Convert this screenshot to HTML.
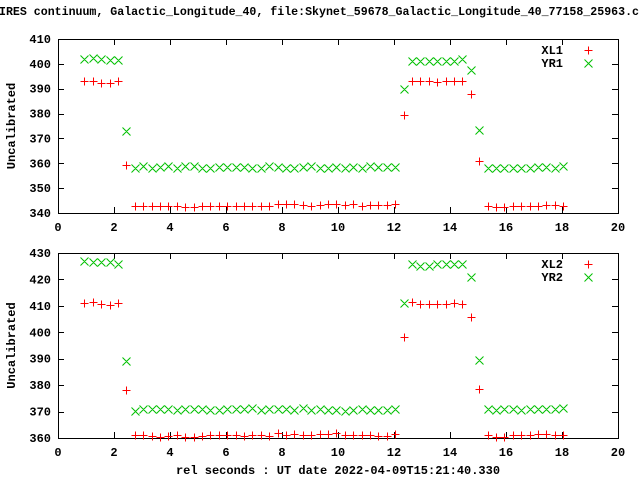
<!DOCTYPE html>
<html><head><meta charset="utf-8"><style>
html,body{margin:0;padding:0;background:#fff;}
svg{display:block;font-family:"Liberation Mono","DejaVu Sans Mono",monospace;font-weight:bold;font-size:12px;}
</style></head><body>
<svg id="chart" width="640" height="480" viewBox="0 0 640 480" xmlns="http://www.w3.org/2000/svg">
<text x="-1" y="15" fill="#000" textLength="640" lengthAdjust="spacingAndGlyphs">IRES continuum, Galactic_Longitude_40, file:Skynet_59678_Galactic_Longitude_40_77158_25963.c</text>
<text x="338" y="474" text-anchor="middle" fill="#000">rel seconds : UT date 2022-04-09T15:21:40.330</text>
<g id="p1"></g>
<g id="p2"></g>
</svg>
<script>
const times = [];
for (let i = 0; i < 58; i++) times.push(+(0.94 + 0.3 * i).toFixed(2));
const xTicks = [0, 2, 4, 6, 8, 10, 12, 14, 16, 18, 20];
const yTicks1 = [340, 350, 360, 370, 380, 390, 400, 410];
const yTicks2 = [360, 370, 380, 390, 400, 410, 420, 430];
const XL1 = [393,393,392.5,392.5,393.2,359.5,
343,342.8,342.8,342.8,342.8,342.8,342.5,342.5,343,342.8,342.8,343,343,342.8,342.8,342.8,343,343.5,343.5,343.5,343.3,342.8,343.3,343.5,343.5,343.3,343.5,343,343.3,343.3,343.3,343.5,
379.3,393,393.2,393.2,392.8,393,393,393,387.9,360.9,
342.8,342.5,342.5,343,342.8,343,342.8,343.3,343.3,342.8];
const YR1 = [402,402.5,402,401.5,401.5,373,
358.3,358.8,358.3,358.5,358.8,358.3,358.8,358.8,358.3,358.3,358.5,358.5,358.5,358.5,358.3,358,358.8,358.5,358.3,358.3,358.5,358.8,358.3,358.3,358.5,358.3,358.5,358.3,358.8,358.5,358.5,358.5,
389.8,401.3,401.3,401.3,401.3,401.3,401.3,402,397.5,373.4,
358.3,358,358.3,358.3,358,358.3,358.5,358.5,358.3,358.8];
const XL2 = [411,411.3,410.7,410.3,411,378,
361,361.3,360.8,360.5,360.8,361.3,360.5,360.5,360.8,361.3,361,361.3,361.3,360.8,361.3,361.3,360.8,361.8,361.3,361.6,361.3,361.3,361.6,361.6,361.8,361.3,361,361.3,361.3,360.8,360.8,361.5,
398.2,411.5,410.8,410.8,410.6,410.8,411.2,410.8,405.9,378.4,
361.3,360.5,360.5,361.3,361,361.3,361.5,361.5,361.3,361.3];
const YR2 = [427,426.5,426.5,426.5,426,389,
370.3,370.8,370.8,370.8,370.8,370.5,370.8,370.8,370.8,370.5,370.5,370.8,370.8,370.8,371.2,370.5,370.8,370.8,370.8,370.5,371.2,370.5,370.8,370.5,370.5,370.3,370.5,370.8,370.5,370.5,370.5,370.8,
410.9,425.7,425.2,425.2,425.7,425.7,425.7,426,421,389.5,
370.8,370.5,370.8,370.8,370.5,370.8,370.8,370.8,370.8,371.5];

const NS = 'http://www.w3.org/2000/svg';
function mk(tag, attrs, parent) {
  const e = document.createElementNS(NS, tag);
  for (const k in attrs) e.setAttribute(k, attrs[k]);
  parent.appendChild(e);
  return e;
}
function panel(g, top, bottom, ymin, ymax, yTicks, s1, s2, n1, n2, id) {
  const L = 58, R = 618;
  const xs = v => L + (v - 0) / 20 * (R - L);
  const ys = v => bottom - (v - ymin) / (ymax - ymin) * (bottom - top);
  const frame = mk('rect', {x: L + 0.5, y: top + 0.5, width: R - L, height: bottom - top, fill: 'none', stroke: '#000', 'stroke-width': 1}, g);
  
  
  xTicks.forEach(t => {
    const x = Math.round(xs(t)) + 0.5;
    const tk = mk('path', {d: `M${x},${bottom}v-6M${x},${top}v6`, stroke: '#000', 'stroke-width': 1}, g);
    
    
    const tl = mk('text', {x: xs(t), y: bottom + 18, 'text-anchor': 'middle', fill: '#000'}, g);
    tl.textContent = t;
    
    
  });
  yTicks.forEach(t => {
    const y = Math.round(ys(t)) + 0.5;
    const tk = mk('path', {d: `M${L},${y}h6M${R},${y}h-6`, stroke: '#000', 'stroke-width': 1}, g);
    
    
    const tl = mk('text', {x: L - 7, y: ys(t) + 4, 'text-anchor': 'end', fill: '#000'}, g);
    tl.textContent = t;
    
    
  });
  const yl = mk('text', {x: 0, y: 0, transform: `translate(15,${(top + bottom) / 2}) rotate(-90)`, 'text-anchor': 'middle', fill: '#000'}, g);
  yl.textContent = 'Uncalibrated';
  
  
  function plus(x, y) { return `M${x - 4},${y}h8M${x},${y - 4}v8`; }
  function cross(x, y) { return `M${x - 4},${y - 4}l8,8M${x - 4},${y + 4}l8,-8`; }
  let d1 = '', d2 = '';
  times.forEach((t, i) => {
    d2 += cross(Math.round(xs(t)) + 0.5, Math.round(ys(s2[i])) + 0.5);
    d1 += plus(Math.round(xs(t)) + 0.5, Math.round(ys(s1[i])) + 0.5);
  });
  const p2 = mk('path', {d: d2, stroke: '#00c000', 'stroke-width': 1, fill: 'none'}, g);
  
  
  const p1 = mk('path', {d: d1, stroke: '#ff0000', 'stroke-width': 1, fill: 'none'}, g);
  
  
  [[n1, '#ff0000', plus], [n2, '#00c000', cross]].forEach((e, k) => {
    const y = top + 11 + k * 13;
    const lt = mk('text', {x: 563, y: y + 4, 'text-anchor': 'end', fill: '#000'}, g);
    lt.textContent = e[0];
    
    
    const lm = mk('path', {d: e[2](588.5, y + 0.5), stroke: e[1], 'stroke-width': 1, fill: 'none'}, g);
    
    
  });
}
panel(document.getElementById('p1'), 39, 213, 340, 410, yTicks1, XL1, YR1, 'XL1', 'YR1', 'top');
panel(document.getElementById('p2'), 253, 438, 360, 430, yTicks2, XL2, YR2, 'XL2', 'YR2', 'bottom');
</script>
</body></html>
